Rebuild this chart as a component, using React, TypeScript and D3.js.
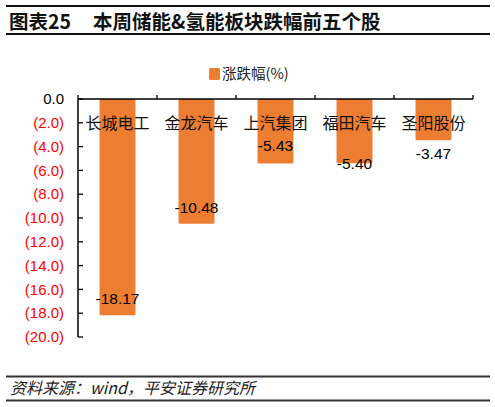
import React from "react";
import * as d3 from "d3";

// 本周储能&氢能板块跌幅前五个股
const categories: string[] = ["长城电工", "金龙汽车", "上汽集团", "福田汽车", "圣阳股份"];
const changes: number[] = [-18.17, -10.48, -5.43, -5.4, -3.47];
const yTicks: number[] = [0, -2, -4, -6, -8, -10, -12, -14, -16, -18, -20];

// where each value label sits relative to the bar end (manual placement in the original)
const labelShift = [-17, -16, -18, 0, 13];

const W = 495;
const H = 407;
const FONT = '"Liberation Sans", Arial, "Noto Sans CJK SC", sans-serif';
const CJK = '"Noto Sans CJK SC", "Liberation Sans", sans-serif';
const ORANGE = "#ED7D31";

const fmt = (v: number) => (v === 0 ? "0.0" : `(${Math.abs(v).toFixed(1)})`);

const App: React.FC = () => {
  const plot = { left: 78, right: 473, top: 99, bottom: 337 };

  const y = d3.scaleLinear().domain([0, -20]).range([plot.top, plot.bottom]);
  const x = d3
    .scaleBand<string>()
    .domain(categories)
    .range([plot.left, plot.right])
    .paddingInner(0.545)
    .paddingOuter(0.2725);
  const step = x.step();

  return (
    <svg
      width={W}
      height={H}
      style={{ position: "absolute", left: 0, top: 0, background: "#fff" }}
      fontFamily={FONT}
    >
      {/* title block */}
      <line x1={6} x2={490} y1={6} y2={6} stroke="#111" strokeWidth={1.8} />
      <text x={9} y={28.5} fontSize={19.5} fontWeight="bold" fontFamily={CJK} fill="#111">
        图表25
      </text>
      <text x={93} y={28.5} fontSize={19.5} fontWeight="bold" fontFamily={CJK} fill="#111">
        本周储能&amp;氢能板块跌幅前五个股
      </text>
      <line x1={6} x2={490} y1={34} y2={34} stroke="#111" strokeWidth={1.8} />

      {/* legend */}
      <rect x={209} y={68} width={11} height={12} rx={1.5} fill={ORANGE} />
      <text x={222} y={74} dy="0.35em" fontSize={14.5} fontFamily={CJK} fill="#222">
        涨跌幅(%)
      </text>

      {/* bars */}
      {changes.map((v, i) => (
        <rect
          key={categories[i]}
          x={x(categories[i])}
          y={y(0)}
          width={x.bandwidth()}
          height={y(v) - y(0)}
          rx={1.5}
          fill={ORANGE}
        />
      ))}

      {/* y axis */}
      <line x1={plot.left} x2={plot.left} y1={plot.top} y2={plot.bottom} stroke="#000" strokeWidth={1.5} />
      {yTicks.map((t) => (
        <g key={t}>
          <line x1={plot.left} x2={plot.left + 5} y1={y(t)} y2={y(t)} stroke="#000" strokeWidth={1.3} />
          <text
            x={64}
            y={y(t)}
            dy="0.35em"
            textAnchor="end"
            fontSize={15}
            fill={t === 0 ? "#000" : "#FF0000"}
          >
            {fmt(t)}
          </text>
        </g>
      ))}

      {/* x axis */}
      <line x1={plot.left} x2={plot.right} y1={y(0)} y2={y(0)} stroke="#000" strokeWidth={1.5} />
      {d3.range(categories.length + 1).map((k) => (
        <line
          key={k}
          x1={plot.left + k * step}
          x2={plot.left + k * step}
          y1={y(0)}
          y2={y(0) - 4}
          stroke="#000"
          strokeWidth={1.3}
        />
      ))}
      {categories.map((c) => (
        <text
          key={c}
          x={(x(c) ?? 0) + x.bandwidth() / 2}
          y={123}
          dy="0.35em"
          textAnchor="middle"
          fontSize={16}
          fontFamily={CJK}
          fill="#111"
        >
          {c}
        </text>
      ))}

      {/* value labels */}
      {changes.map((v, i) => (
        <text
          key={`v${i}`}
          x={(x(categories[i]) ?? 0) + x.bandwidth() / 2}
          y={y(v) + labelShift[i]}
          dy="0.35em"
          textAnchor="middle"
          fontSize={15.5}
          fill="#000"
        >
          {v.toFixed(2)}
        </text>
      ))}

      {/* source */}
      <line x1={6} x2={490} y1={376.5} y2={376.5} stroke="#333" strokeWidth={2} />
      <text x={10} y={388} dy="0.35em" fontSize={16} fontStyle="italic" fontFamily={CJK} fill="#222">
        资料来源：wind，平安证券研究所
      </text>
      <line x1={6} x2={490} y1={400.5} y2={400.5} stroke="#333" strokeWidth={2} />
    </svg>
  );
};

export default App;
